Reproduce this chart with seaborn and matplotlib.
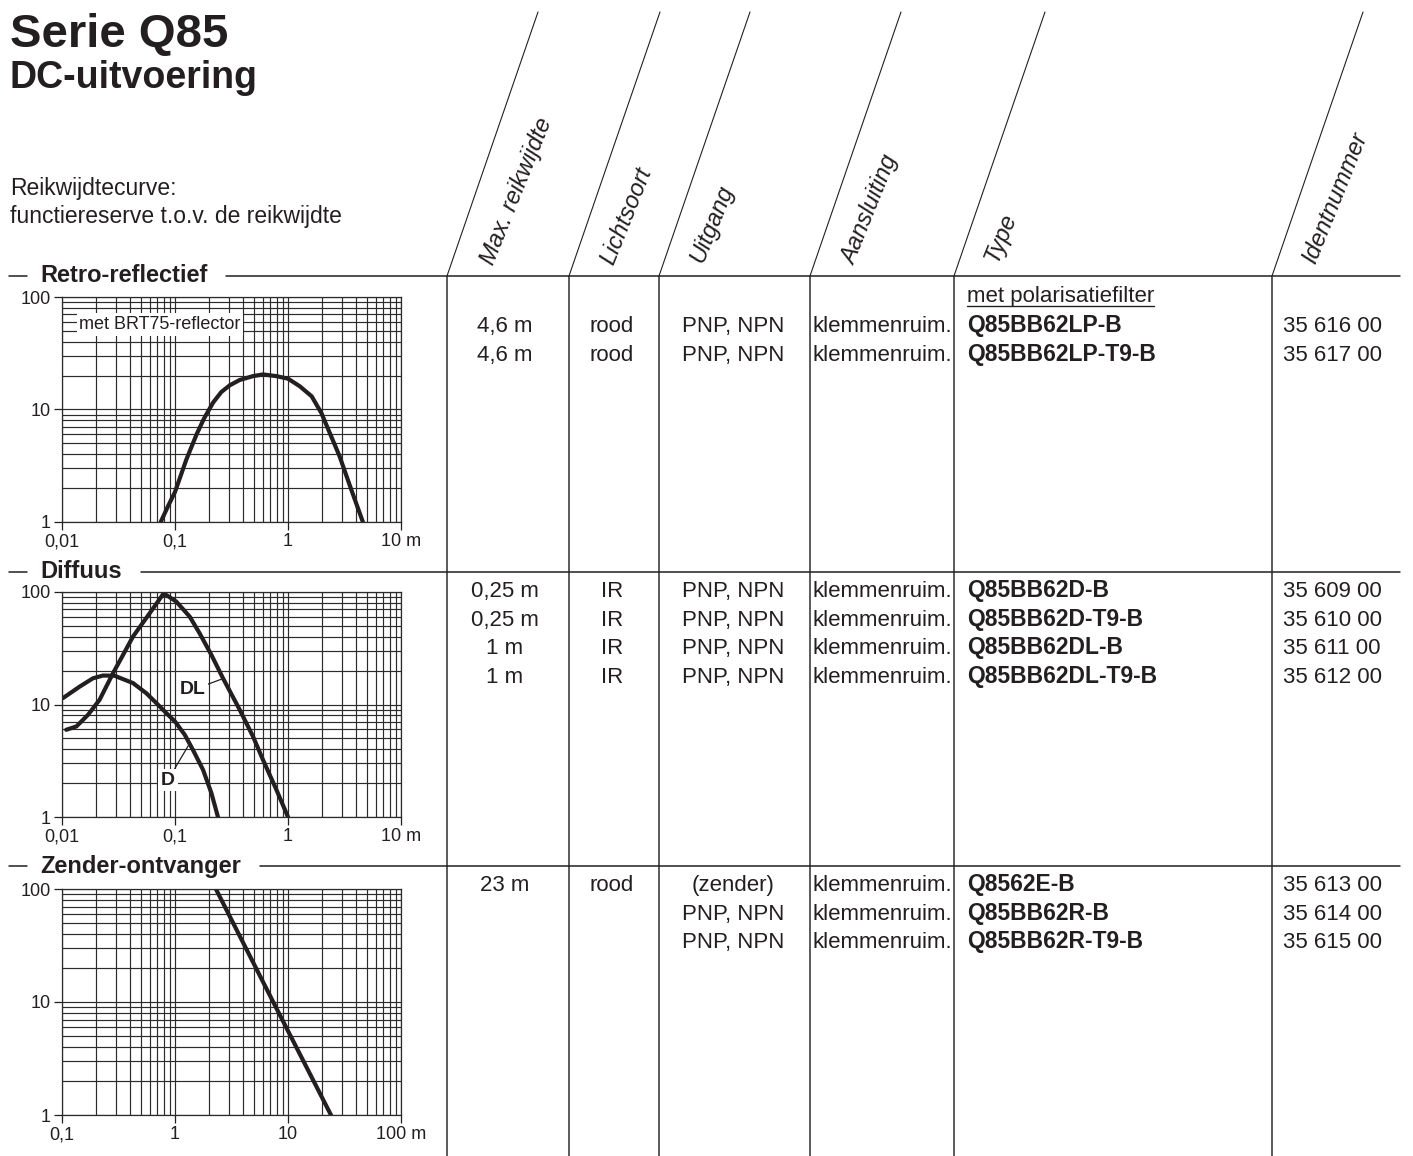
import numpy as np
import pandas as pd
import matplotlib
matplotlib.use('Agg')
import matplotlib.pyplot as plt
import seaborn as sns
from matplotlib.lines import Line2D
from matplotlib.ticker import LogLocator, NullFormatter

# reikwijdtecurves: afstand (m) tegen functiereserve
retro_x = [0.0747, 0.0867, 0.1, 0.126, 0.155, 0.18, 0.217, 0.257, 0.305, 0.374, 0.49, 0.601,
           0.789, 1.0, 1.27, 1.62, 1.97, 2.34, 2.86, 3.63, 4.6]
retro_y = [1.0, 1.38, 1.85, 3.59, 5.99, 8.26, 11.5, 14.3, 16.4, 18.3, 19.8, 20.5,
           19.8, 18.8, 16.1, 13.1, 9.34, 6.2, 3.84, 1.94, 1.0]

dl_x = [0.0109, 0.0134, 0.017, 0.0215, 0.0283, 0.0347, 0.0425, 0.0597, 0.0794, 0.1026,
        0.135, 0.165, 0.21, 0.266, 0.374, 0.49, 0.6, 0.789, 1.0]
dl_y = [5.96, 6.38, 8.1, 11.0, 19.0, 27.6, 40.2, 64.7, 97.3, 82.2,
        60.4, 43.0, 27.6, 17.1, 8.97, 5.2, 3.23, 1.75, 1.0]

d_x = [0.0102, 0.0143, 0.0188, 0.0231, 0.0292, 0.0425, 0.0557, 0.0684, 0.0838, 0.1,
       0.122, 0.144, 0.177, 0.21, 0.24]
d_y = [11.4, 14.4, 17.1, 18.1, 18.0, 15.5, 12.6, 10.3, 8.38, 7.06,
       5.38, 3.96, 2.63, 1.63, 1.0]

zo_x = [2.3, 7.4, 24.0]
zo_y = [100.0, 10.0, 1.0]

# tabel
headers = ['Max. reikwijdte', 'Lichtsoort', 'Uitgang', 'Aansluiting', 'Type', 'Identnummer']
sections = ['Retro-reflectief', 'Diffuus', 'Zender-ontvanger']

retro_range = ['4,6 m', '4,6 m']
retro_light = ['rood', 'rood']
retro_out = ['PNP, NPN', 'PNP, NPN']
retro_conn = ['klemmenruim.', 'klemmenruim.']
retro_type = ['Q85BB62LP-B', 'Q85BB62LP-T9-B']
retro_id = ['35 616 00', '35 617 00']

diff_range = ['0,25 m', '0,25 m', '1 m', '1 m']
diff_light = ['IR', 'IR', 'IR', 'IR']
diff_out = ['PNP, NPN'] * 4
diff_conn = ['klemmenruim.'] * 4
diff_type = ['Q85BB62D-B', 'Q85BB62D-T9-B', 'Q85BB62DL-B', 'Q85BB62DL-T9-B']
diff_id = ['35 609 00', '35 610 00', '35 611 00', '35 612 00']

zend_range = ['23 m', '', '']
zend_light = ['rood', '', '']
zend_out = ['(zender)', 'PNP, NPN', 'PNP, NPN']
zend_conn = ['klemmenruim.'] * 3
zend_type = ['Q8562E-B', 'Q85BB62R-B', 'Q85BB62R-T9-B']
zend_id = ['35 613 00', '35 614 00', '35 615 00']

sns.set_theme(style='white')
plt.rcParams['font.family'] = ['Liberation Sans', 'DejaVu Sans']
INK = '#231f20'

W, H = 1413, 1156
fig = plt.figure(figsize=(W / 100, H / 100), dpi=100)


def fx(px):
    return px / W


def fy(py):
    return 1 - py / H


def seg(x0, y0, x1, y1, **kw):
    fig.add_artist(Line2D([fx(x0), fx(x1)], [fy(y0), fy(y1)], transform=fig.transFigure, **kw))


def ftext(x, y, s, **kw):
    kw.setdefault('color', INK)
    return fig.text(fx(x), fy(y), s, **kw)


# titel
ftext(10, 47, 'Serie Q85', fontsize=34, fontweight='bold', va='baseline')
ftext(10, 88, 'DC-uitvoering', fontsize=27, fontweight='bold', va='baseline')
ftext(10, 195, 'Reikwijdtecurve:', fontsize=16.5, va='baseline')
ftext(10, 223, 'functiereserve t.o.v. de reikwijdte', fontsize=16.5, va='baseline')

# kolomlijnen
col_x = [447, 569, 659, 810, 954, 1272]
lab_pos = [(493, 266), (613, 266), (703, 264), (855, 266), (997, 263), (1315, 265)]
for xb, name, (lx, ly) in zip(col_x, headers, lab_pos):
    seg(xb, 276, xb + 91, 12, color=INK, lw=0.8)
    seg(xb, 276, xb, H, color='#5a5a5a', lw=1.4)
    ftext(lx, ly, name, fontsize=17, style='italic', rotation=68,
          rotation_mode='anchor', ha='left', va='baseline')

# sectiekoppen
sec_y = [276, 572, 866]
fig.canvas.draw()
renderer = fig.canvas.get_renderer()
for name, ly in zip(sections, sec_y):
    seg(9, ly, 27, ly, color=INK, lw=1.1)
    t = ftext(40, ly + 6.5, name, fontsize=17, fontweight='bold', va='baseline')
    bb = t.get_window_extent(renderer=renderer)
    seg(bb.x1 + 19, ly, 1400, ly, color=INK, lw=1.1)

# tabelinhoud
step = 28.7
tables = [
    (332, retro_range, retro_light, retro_out, retro_conn, retro_type, retro_id),
    (597, diff_range, diff_light, diff_out, diff_conn, diff_type, diff_id),
    (891, zend_range, zend_light, zend_out, zend_conn, zend_type, zend_id),
]
for y0, rng, light, out, conn, typ, ident in tables:
    for i in range(len(typ)):
        y = y0 + i * step
        ftext(505, y, rng[i], fontsize=16, ha='center', va='baseline')
        ftext(612, y, light[i], fontsize=16, ha='center', va='baseline')
        ftext(733, y, out[i], fontsize=16, ha='center', va='baseline')
        ftext(813, y, conn[i], fontsize=16, ha='left', va='baseline')
        ftext(967, y, typ[i], fontsize=16.5, fontweight='bold', ha='left', va='baseline')
        ftext(1283, y, ident[i], fontsize=16, ha='left', va='baseline')

pol = ftext(967, 302, 'met polarisatiefilter', fontsize=16, ha='left', va='baseline')
bb = pol.get_window_extent(renderer=renderer)
seg(967, 306, bb.x1, 306, color=INK, lw=1.0)


# diagrammen
def make_axes(top, bottom, xmin, xmax, xlabels):
    ax = fig.add_axes([fx(62), fy(bottom), fx(401) - fx(62), fy(top) - fy(bottom)])
    ax.set_xscale('log')
    ax.set_yscale('log')
    ax.set_xlim(xmin, xmax)
    ax.set_ylim(1, 100)
    for axis in (ax.xaxis, ax.yaxis):
        axis.set_minor_locator(LogLocator(base=10, subs=np.arange(2, 10), numticks=50))
        axis.set_minor_formatter(NullFormatter())
    ticks = [xmin * 10 ** k for k in range(len(xlabels))]
    ax.set_xticks(ticks)
    ax.set_xticklabels(xlabels)
    ax.set_yticks([1, 10, 100])
    ax.set_yticklabels(['1', '10', '100'])
    ax.grid(which='both', color='#2b2b2b', lw=0.85)
    ax.set_axisbelow(True)
    ax.tick_params(which='major', length=6, width=0.9, color=INK, labelsize=13,
                   labelcolor=INK, pad=2, bottom=True, left=True, direction='out')
    ax.tick_params(which='minor', length=0)
    for sp in ax.spines.values():
        sp.set_color('#2b2b2b')
        sp.set_linewidth(0.9)
    ax.set_facecolor('white')
    return ax


ax1 = make_axes(297, 522, 0.01, 10, ['0,01', '0,1', '1', '10 m'])
sns.lineplot(x=retro_x, y=retro_y, ax=ax1, color=INK, lw=3, sort=False)
ax1.text(0.0736, 57, 'met BRT75-reflector', fontsize=13, color=INK, ha='center', va='center',
         bbox=dict(boxstyle='square,pad=0.15', fc='white', ec='none'))

ax2 = make_axes(592, 817, 0.01, 10, ['0,01', '0,1', '1', '10 m'])
sns.lineplot(x=dl_x, y=dl_y, ax=ax2, color=INK, lw=3, sort=False)
sns.lineplot(x=d_x, y=d_y, ax=ax2, color=INK, lw=3, sort=False)
ax2.annotate('DL', xy=(0.262, 16.9), xytext=(0.144, 13.5), fontsize=14, fontweight='bold',
             color=INK, ha='center', va='center',
             bbox=dict(boxstyle='square,pad=0.12', fc='white', ec='none'),
             arrowprops=dict(arrowstyle='-', color=INK, lw=0.9, shrinkA=0, shrinkB=0))
ax2.annotate('D', xy=(0.131, 4.3), xytext=(0.0867, 2.13), fontsize=14, fontweight='bold',
             color=INK, ha='center', va='center',
             bbox=dict(boxstyle='square,pad=0.15', fc='white', ec='none'),
             arrowprops=dict(arrowstyle='-', color=INK, lw=0.9, shrinkA=0, shrinkB=0))

ax3 = make_axes(889, 1115, 0.1, 100, ['0,1', '1', '10', '100 m'])
sns.lineplot(x=zo_x, y=zo_y, ax=ax3, color=INK, lw=3, sort=False)

for ax in (ax1, ax2, ax3):
    ax.set_xlabel('')
    ax.set_ylabel('')

fig.savefig('out.png', dpi=100)
